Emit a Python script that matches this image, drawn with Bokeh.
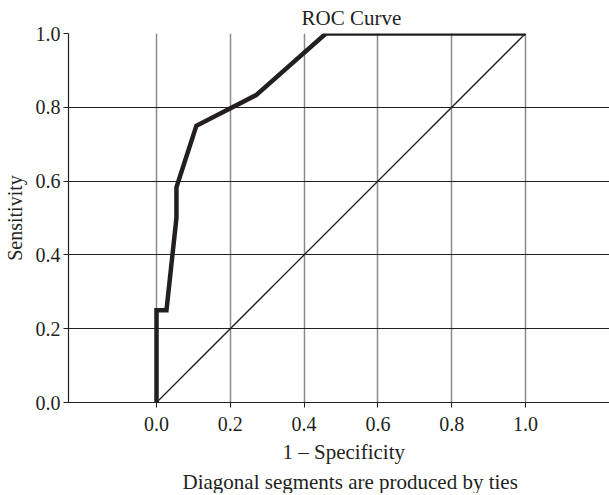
from bokeh.plotting import figure
from bokeh.models import Range1d, FixedTicker, Title, CustomJSTickFormatter
from bokeh.embed import file_html
from bokeh.resources import INLINE

# ROC curve points (1 - specificity, sensitivity)
fpr = [0.0, 0.0, 0.027, 0.054, 0.054, 0.108, 0.270, 0.459, 1.0]
tpr = [0.0, 0.25, 0.25, 0.5, 0.583, 0.75, 0.833, 1.0, 1.0]
diag_x = [0.0, 1.0]
diag_y = [0.0, 1.0]
ticks = [0.0, 0.2, 0.4, 0.6, 0.8, 1.0]

title_text = "ROC Curve"
x_label = "1 \u2013 Specificity"
y_label = "Sensitivity"
foot_text = "Diagonal segments are produced by ties"

FONT = "Liberation Serif"
INK = "#231f20"

p = figure(frame_width=541, frame_height=369, output_backend="svg", toolbar_location=None,
           x_range=Range1d(-0.2385, 1.2276), y_range=Range1d(0, 1),
           min_border_left=0, min_border_right=0, min_border_top=0,
           min_border_bottom=0)
p.outline_line_color = None
p.background_fill_color = "white"

p.title.text = title_text
p.title.text_font = FONT
p.title.text_font_size = "21px"
p.title.text_font_style = "normal"
p.title.text_color = INK
p.title.align = "left"
p.title.offset = 233
p.title.standoff = 7

for ax in (p.xaxis[0], p.yaxis[0]):
    ax.ticker = FixedTicker(ticks=ticks)
    ax.formatter = CustomJSTickFormatter(code="return tick.toFixed(1);")
    ax.major_label_text_font = FONT
    ax.major_label_text_font_size = "20px"
    ax.major_label_text_color = INK
    ax.axis_label_text_font = FONT
    ax.axis_label_text_font_size = "20px"
    ax.axis_label_text_font_style = "normal"
    ax.axis_label_text_color = INK
    ax.axis_line_color = INK
    ax.axis_line_width = 1.2
    ax.major_tick_line_color = INK
    ax.major_tick_out = 5
    ax.major_tick_in = 0
    ax.minor_tick_line_color = None

p.yaxis.axis_label = y_label
p.xaxis.major_label_standoff = 9
p.yaxis.major_label_standoff = 3
p.yaxis.axis_label_standoff = 7

p.xgrid.ticker = FixedTicker(ticks=ticks)
p.ygrid.ticker = FixedTicker(ticks=ticks)
p.xgrid.grid_line_color = "#8a8a8a"
p.xgrid.grid_line_width = 1.5
p.ygrid.grid_line_color = INK
p.ygrid.grid_line_width = 1.2

xl = Title(text=x_label, align="left", offset=214, standoff=8,
           text_font=FONT, text_font_size="21px", text_font_style="normal",
           text_color=INK)
p.add_layout(xl, "below")
foot = Title(text=foot_text, align="left", offset=114, standoff=0,
             text_font=FONT, text_font_size="21px", text_font_style="normal",
             text_color=INK)
p.add_layout(foot, "below")

p.line(diag_x, diag_y, line_color=INK, line_width=1.3)
p.line(fpr, tpr, line_color=INK, line_width=4.5, line_join="miter")

open("out.html", "w").write(file_html(p, INLINE))
